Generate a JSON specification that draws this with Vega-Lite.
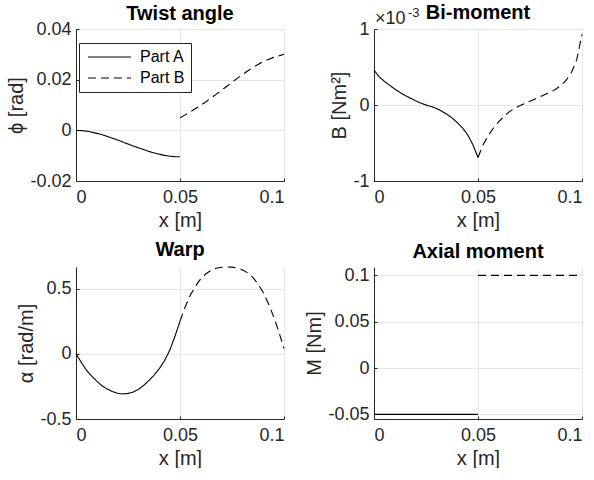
{
  "$schema": "https://vega.github.io/schema/vega-lite/v6.json",
  "padding": {"left": 6, "top": 3, "right": 0, "bottom": 0},
  "background": "white",
  "datasets": {
    "phi": [
      {"x":0,"y":0,"part":"Part A"},{"x":0.0025,"y":-0.0001,"part":"Part A"},{"x":0.005,"y":-0.0003,"part":"Part A"},{"x":0.0075,"y":-0.0007,"part":"Part A"},{"x":0.01,"y":-0.0012,"part":"Part A"},{"x":0.0125,"y":-0.0017,"part":"Part A"},{"x":0.015,"y":-0.0024,"part":"Part A"},{"x":0.0175,"y":-0.0031,"part":"Part A"},{"x":0.02,"y":-0.0038,"part":"Part A"},{"x":0.0225,"y":-0.0046,"part":"Part A"},{"x":0.025,"y":-0.0054,"part":"Part A"},{"x":0.0275,"y":-0.0062,"part":"Part A"},{"x":0.03,"y":-0.0069,"part":"Part A"},{"x":0.0325,"y":-0.0076,"part":"Part A"},{"x":0.035,"y":-0.0083,"part":"Part A"},{"x":0.0375,"y":-0.0089,"part":"Part A"},{"x":0.04,"y":-0.0094,"part":"Part A"},{"x":0.0425,"y":-0.0099,"part":"Part A"},{"x":0.045,"y":-0.0102,"part":"Part A"},{"x":0.0475,"y":-0.0104,"part":"Part A"},{"x":0.05,"y":-0.0104,"part":"Part A"},
      {"x":0.05,"y":0.005,"part":"Part B"},{"x":0.0525,"y":0.0061,"part":"Part B"},{"x":0.055,"y":0.0073,"part":"Part B"},{"x":0.0575,"y":0.0086,"part":"Part B"},{"x":0.06,"y":0.0099,"part":"Part B"},{"x":0.0625,"y":0.0113,"part":"Part B"},{"x":0.065,"y":0.0128,"part":"Part B"},{"x":0.0675,"y":0.0143,"part":"Part B"},{"x":0.07,"y":0.0158,"part":"Part B"},{"x":0.0725,"y":0.0174,"part":"Part B"},{"x":0.075,"y":0.019,"part":"Part B"},{"x":0.0775,"y":0.0205,"part":"Part B"},{"x":0.08,"y":0.022,"part":"Part B"},{"x":0.0825,"y":0.0234,"part":"Part B"},{"x":0.085,"y":0.0248,"part":"Part B"},{"x":0.0875,"y":0.026,"part":"Part B"},{"x":0.09,"y":0.0271,"part":"Part B"},{"x":0.0925,"y":0.028,"part":"Part B"},{"x":0.095,"y":0.0288,"part":"Part B"},{"x":0.0975,"y":0.0294,"part":"Part B"},{"x":0.1,"y":0.03,"part":"Part B"}
    ],
    "bimoment": [
      {"x":0,"y":0.00046,"part":"Part A"},{"x":0.0025,"y":0.00037,"part":"Part A"},{"x":0.005,"y":0.00031,"part":"Part A"},{"x":0.0075,"y":0.00026,"part":"Part A"},{"x":0.01,"y":0.00021,"part":"Part A"},{"x":0.0125,"y":0.000165,"part":"Part A"},{"x":0.015,"y":0.000125,"part":"Part A"},{"x":0.0175,"y":0.00009,"part":"Part A"},{"x":0.02,"y":0.000055,"part":"Part A"},{"x":0.0225,"y":0.000025,"part":"Part A"},{"x":0.025,"y":0.0,"part":"Part A"},{"x":0.0275,"y":-0.00002,"part":"Part A"},{"x":0.03,"y":-0.000045,"part":"Part A"},{"x":0.0325,"y":-0.00008,"part":"Part A"},{"x":0.035,"y":-0.00012,"part":"Part A"},{"x":0.0375,"y":-0.00017,"part":"Part A"},{"x":0.04,"y":-0.00023,"part":"Part A"},{"x":0.0425,"y":-0.0003,"part":"Part A"},{"x":0.045,"y":-0.00039,"part":"Part A"},{"x":0.0475,"y":-0.00052,"part":"Part A"},{"x":0.05,"y":-0.00069,"part":"Part A"},
      {"x":0.05,"y":-0.00069,"part":"Part B"},{"x":0.0525,"y":-0.00052,"part":"Part B"},{"x":0.055,"y":-0.0004,"part":"Part B"},{"x":0.0575,"y":-0.0003,"part":"Part B"},{"x":0.06,"y":-0.00022,"part":"Part B"},{"x":0.0625,"y":-0.00015,"part":"Part B"},{"x":0.065,"y":-0.00009,"part":"Part B"},{"x":0.0675,"y":-0.000045,"part":"Part B"},{"x":0.07,"y":-0.00001,"part":"Part B"},{"x":0.0725,"y":0.00002,"part":"Part B"},{"x":0.075,"y":0.00005,"part":"Part B"},{"x":0.0775,"y":0.00008,"part":"Part B"},{"x":0.08,"y":0.00011,"part":"Part B"},{"x":0.0825,"y":0.00014,"part":"Part B"},{"x":0.085,"y":0.00017,"part":"Part B"},{"x":0.0875,"y":0.00021,"part":"Part B"},{"x":0.09,"y":0.00026,"part":"Part B"},{"x":0.0925,"y":0.00033,"part":"Part B"},{"x":0.095,"y":0.00043,"part":"Part B"},{"x":0.0975,"y":0.0006,"part":"Part B"},{"x":0.1,"y":0.00093,"part":"Part B"}
    ],
    "warp": [
      {"x":0,"y":0,"part":"Part A"},{"x":0.0025,"y":-0.065,"part":"Part A"},{"x":0.005,"y":-0.125,"part":"Part A"},{"x":0.0075,"y":-0.17,"part":"Part A"},{"x":0.01,"y":-0.21,"part":"Part A"},{"x":0.0125,"y":-0.245,"part":"Part A"},{"x":0.015,"y":-0.27,"part":"Part A"},{"x":0.0175,"y":-0.29,"part":"Part A"},{"x":0.02,"y":-0.303,"part":"Part A"},{"x":0.0225,"y":-0.308,"part":"Part A"},{"x":0.025,"y":-0.305,"part":"Part A"},{"x":0.0275,"y":-0.293,"part":"Part A"},{"x":0.03,"y":-0.273,"part":"Part A"},{"x":0.0325,"y":-0.243,"part":"Part A"},{"x":0.035,"y":-0.205,"part":"Part A"},{"x":0.0375,"y":-0.165,"part":"Part A"},{"x":0.04,"y":-0.115,"part":"Part A"},{"x":0.0425,"y":-0.055,"part":"Part A"},{"x":0.045,"y":0.025,"part":"Part A"},{"x":0.0475,"y":0.13,"part":"Part A"},{"x":0.05,"y":0.25,"part":"Part A"},
      {"x":0.05,"y":0.25,"part":"Part B"},{"x":0.0525,"y":0.36,"part":"Part B"},{"x":0.055,"y":0.45,"part":"Part B"},{"x":0.0575,"y":0.52,"part":"Part B"},{"x":0.06,"y":0.575,"part":"Part B"},{"x":0.0625,"y":0.613,"part":"Part B"},{"x":0.065,"y":0.64,"part":"Part B"},{"x":0.0675,"y":0.655,"part":"Part B"},{"x":0.07,"y":0.663,"part":"Part B"},{"x":0.0725,"y":0.665,"part":"Part B"},{"x":0.075,"y":0.664,"part":"Part B"},{"x":0.0775,"y":0.657,"part":"Part B"},{"x":0.08,"y":0.643,"part":"Part B"},{"x":0.0825,"y":0.62,"part":"Part B"},{"x":0.085,"y":0.585,"part":"Part B"},{"x":0.0875,"y":0.535,"part":"Part B"},{"x":0.09,"y":0.47,"part":"Part B"},{"x":0.0925,"y":0.385,"part":"Part B"},{"x":0.095,"y":0.285,"part":"Part B"},{"x":0.0975,"y":0.17,"part":"Part B"},{"x":0.1,"y":0.04,"part":"Part B"}
    ],
    "moment": [
      {"x":0,"y":-0.05,"part":"Part A"},{"x":0.05,"y":-0.05,"part":"Part A"},
      {"x":0.05,"y":0.1,"part":"Part B"},{"x":0.1,"y":0.1,"part":"Part B"}
    ],
    "scale_note": [{"x":0,"y":0.001,"base":"×10","exp":"-3"}]
  },
  "columns": 2,
  "spacing": {"row": 86, "column": 90},
  "bounds": "flush",
  "resolve": {"scale": {"strokeDash": "independent"}, "legend": {"strokeDash": "independent"}},
  "concat": [
    {
      "width": 208, "height": 152,
      "title": {"text": "Twist angle", "offset": -4},
      "data": {"name": "phi"},
      "mark": {"type": "line", "color": "black", "strokeWidth": 1.1},
      "encoding": {
        "x": {"field": "x", "type": "quantitative", "scale": {"domain": [0, 0.1], "nice": false}, "axis": {"values": [0, 0.05, 0.1], "title": "x [m]"}},
        "y": {"field": "y", "type": "quantitative", "scale": {"domain": [-0.02, 0.04], "nice": false}, "axis": {"values": [-0.02, 0, 0.02, 0.04], "title": "ϕ [rad]"}},
        "strokeDash": {"field": "part", "type": "nominal", "scale": {"domain": ["Part A", "Part B"], "range": [[1, 0], [8, 5]]},
          "legend": {"title": null, "orient": "none", "legendX": 3, "legendY": 14, "symbolType": "M-1,0H7.6", "symbolSize": 100, "symbolStrokeWidth": 1.1, "symbolStrokeColor": "black", "symbolFillColor": "transparent", "labelFontSize": 16, "labelFont": "Liberation Sans", "labelColor": "#000", "labelOffset": 39, "strokeColor": "#262626", "fillColor": "white", "padding": 6, "rowPadding": 5}}
      }
    },
    {
      "width": 208, "height": 152,
      "title": {"text": "Bi-moment", "offset": -16},
      "layer": [
        {
          "data": {"name": "bimoment"},
          "mark": {"type": "line", "color": "black", "strokeWidth": 1.1},
          "encoding": {
            "x": {"field": "x", "type": "quantitative", "scale": {"domain": [0, 0.1], "nice": false}, "axis": {"values": [0, 0.05, 0.1], "title": "x [m]"}},
            "y": {"field": "y", "type": "quantitative", "scale": {"domain": [-0.001, 0.001], "nice": false}, "axis": {"values": [-0.001, 0, 0.001], "title": "B [Nm²]", "labelExpr": "format(datum.value*1000, '~g')"}},
            "strokeDash": {"field": "part", "type": "nominal", "scale": {"domain": ["Part A", "Part B"], "range": [[1, 0], [8, 5]]}, "legend": null}
          }
        },
        {
          "data": {"name": "scale_note"},
          "mark": {"type": "text", "align": "left", "baseline": "alphabetic", "dy": -5, "dx": 1, "fontSize": 18, "font": "Liberation Sans", "color": "#262626"},
          "encoding": {"x": {"field": "x", "type": "quantitative"}, "y": {"field": "y", "type": "quantitative"}, "text": {"field": "base"}}
        },
        {
          "data": {"name": "scale_note"},
          "mark": {"type": "text", "align": "left", "baseline": "alphabetic", "dy": -12, "dx": 34, "fontSize": 13, "font": "Liberation Sans", "color": "#262626"},
          "encoding": {"x": {"field": "x", "type": "quantitative"}, "y": {"field": "y", "type": "quantitative"}, "text": {"field": "exp"}}
        }
      ]
    },
    {
      "width": 208, "height": 152,
      "title": {"text": "Warp", "offset": 5},
      "data": {"name": "warp"},
      "mark": {"type": "line", "color": "black", "strokeWidth": 1.1},
      "encoding": {
        "x": {"field": "x", "type": "quantitative", "scale": {"domain": [0, 0.1], "nice": false}, "axis": {"values": [0, 0.05, 0.1], "title": "x [m]"}},
        "y": {"field": "y", "type": "quantitative", "scale": {"domain": [-0.5, 0.665], "nice": false}, "axis": {"values": [-0.5, 0, 0.5], "title": "α [rad/m]"}},
        "strokeDash": {"field": "part", "type": "nominal", "scale": {"domain": ["Part A", "Part B"], "range": [[1, 0], [8, 5]]}, "legend": null}
      }
    },
    {
      "width": 208, "height": 152,
      "title": {"text": "Axial moment", "offset": 4},
      "data": {"name": "moment"},
      "mark": {"type": "line", "color": "black", "strokeWidth": 1.1},
      "encoding": {
        "x": {"field": "x", "type": "quantitative", "scale": {"domain": [0, 0.1], "nice": false}, "axis": {"values": [0, 0.05, 0.1], "title": "x [m]"}},
        "y": {"field": "y", "type": "quantitative", "scale": {"domain": [-0.055, 0.109], "nice": false}, "axis": {"values": [-0.05, 0, 0.05, 0.1], "title": "M [Nm]"}},
        "strokeDash": {"field": "part", "type": "nominal", "scale": {"domain": ["Part A", "Part B"], "range": [[1, 0], [8, 5]]}, "legend": null}
      }
    }
  ],
  "config": {
    "locale": {"number": {"decimal": ".", "thousands": ",", "grouping": [3], "currency": ["$", ""], "minus": "-"}},
    "view": {"stroke": null},
    "font": "Liberation Sans",
    "title": {"font": "Liberation Sans", "fontSize": 20, "fontWeight": "bold", "color": "#000", "frame": "group"},
    "axis": {
      "domainColor": "#262626", "domainWidth": 1,
      "tickColor": "#262626", "tickSize": -3, "tickWidth": 1,
      "labelColor": "#262626", "labelFont": "Liberation Sans", "labelFontSize": 18,
      "titleColor": "#262626", "titleFont": "Liberation Sans", "titleFontSize": 20, "titleFontWeight": "normal",
      "gridColor": "#e6e6e6", "gridWidth": 1, "grid": true,
      "format": "~g"
    },
    "axisX": {"labelPadding": 10, "titlePadding": 4},
    "axisY": {"labelPadding": 8, "titlePadding": 3}
  }
}
